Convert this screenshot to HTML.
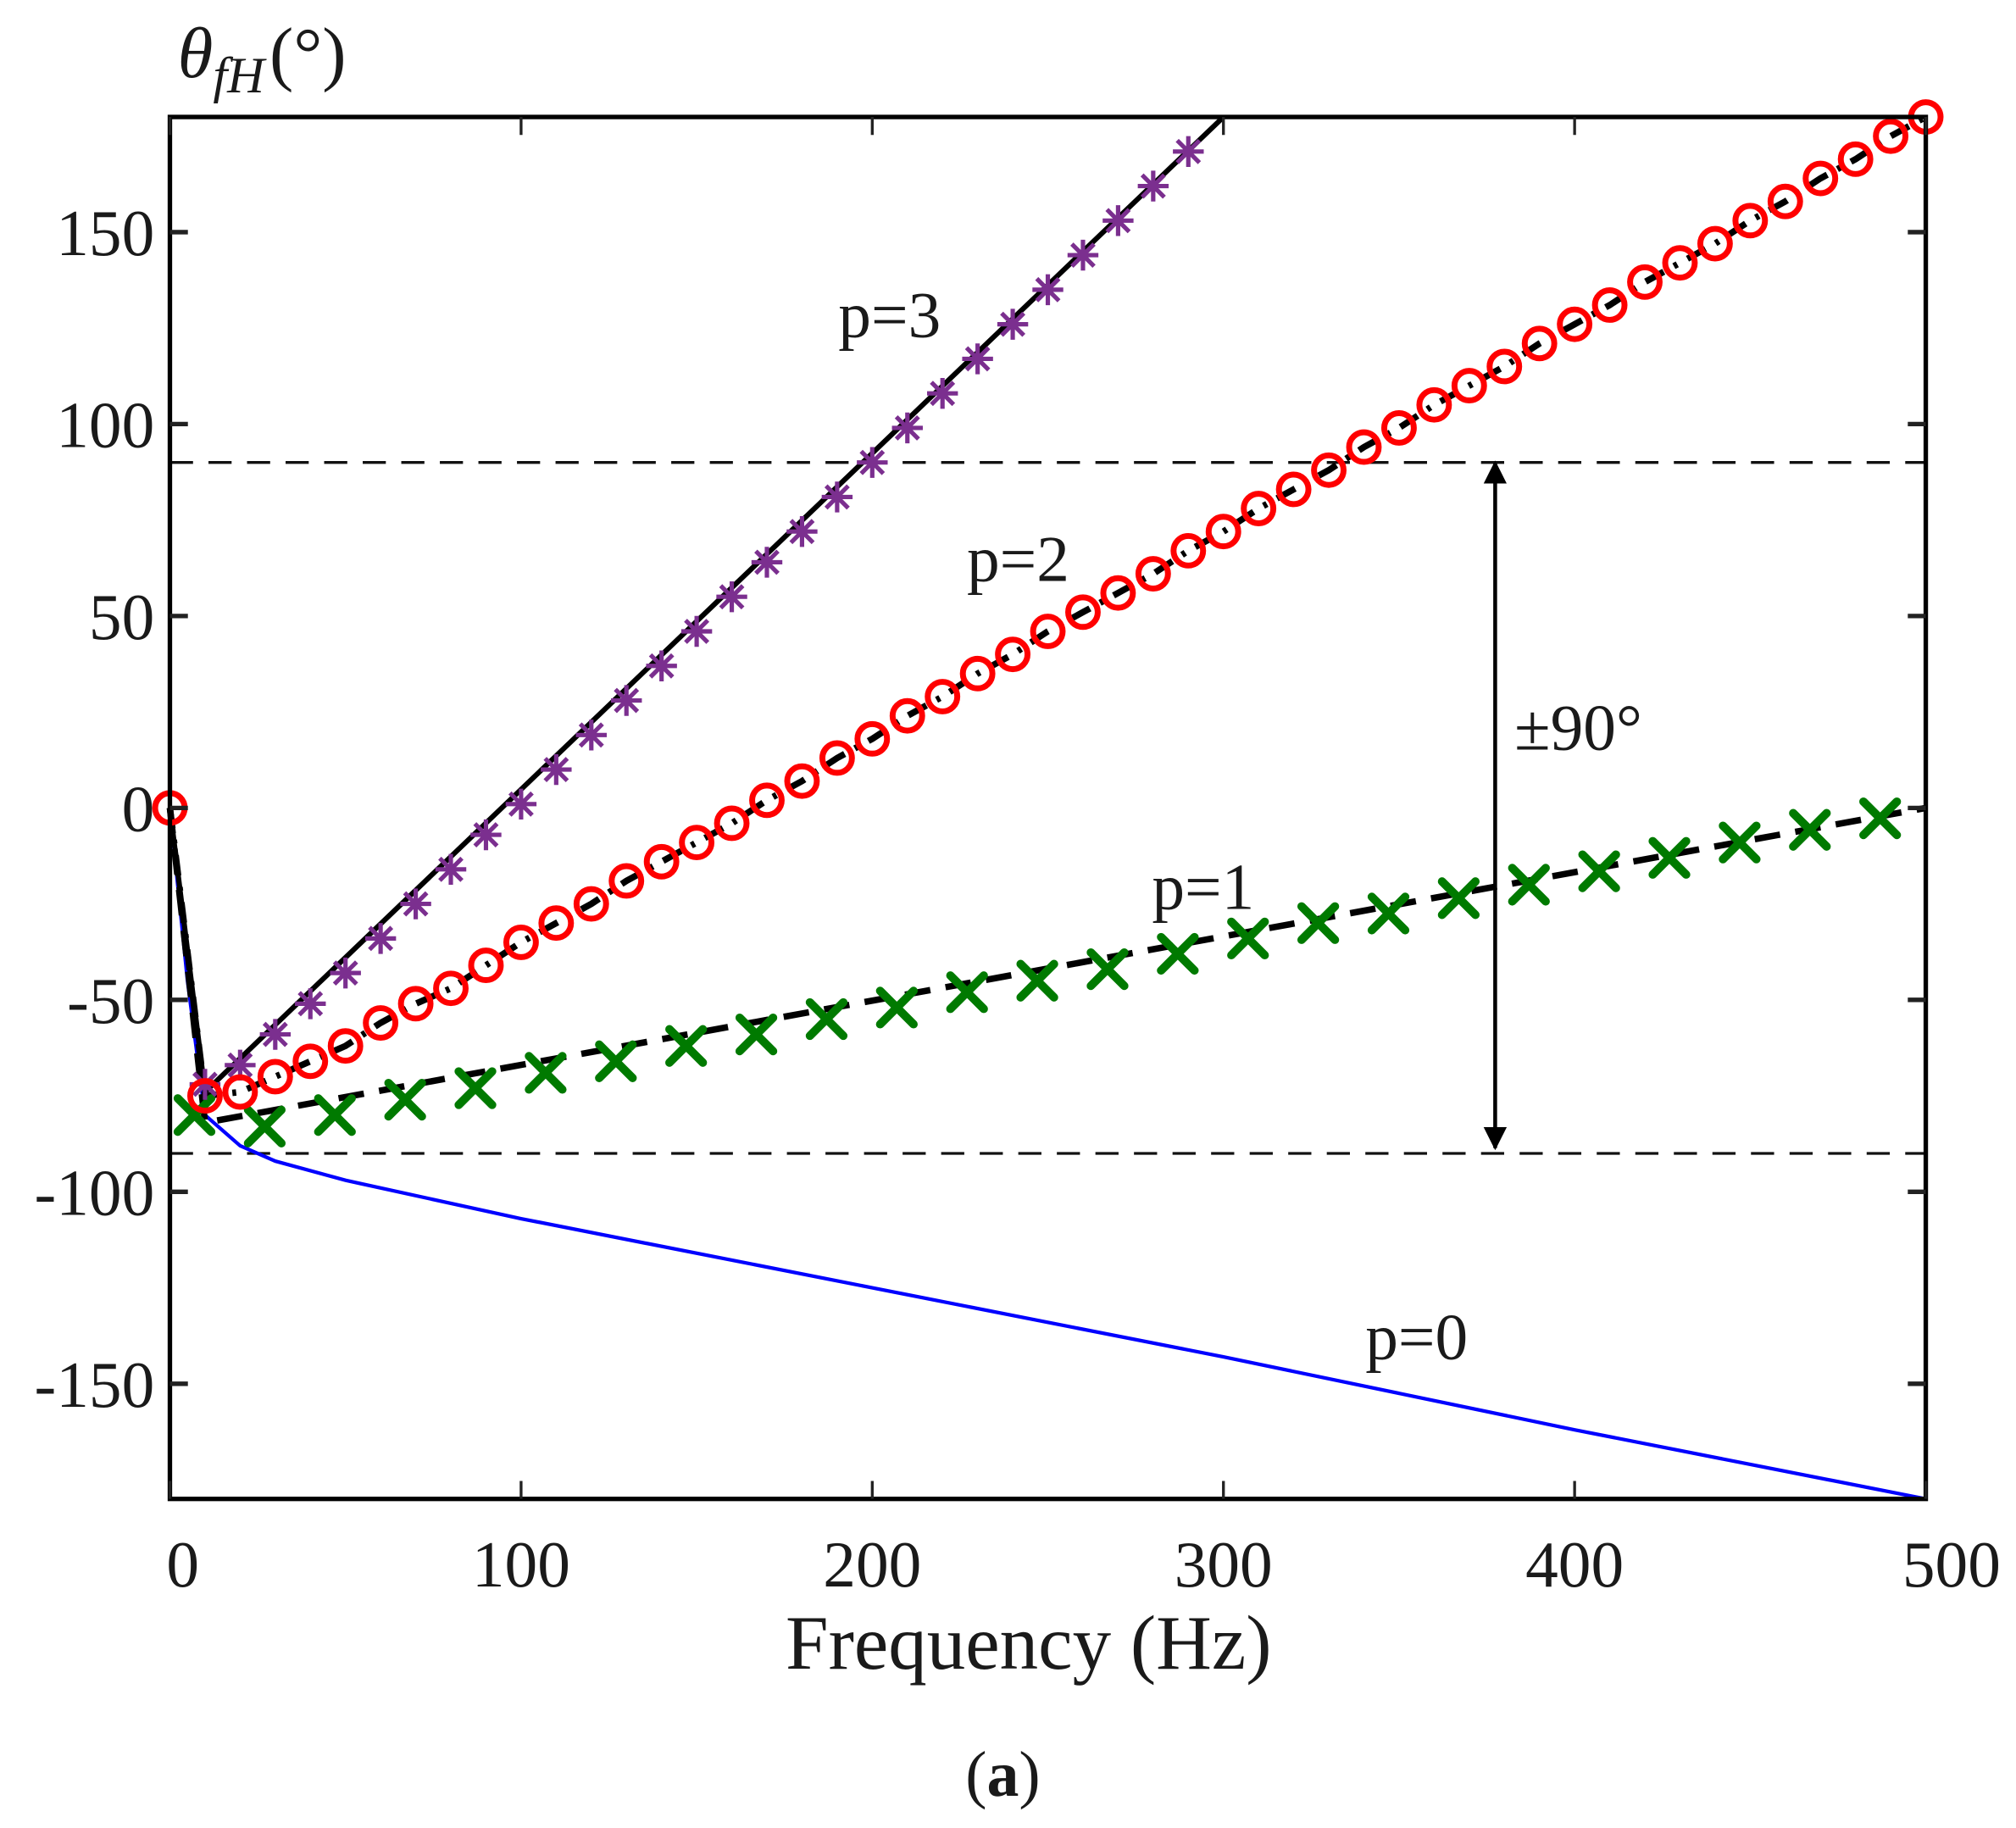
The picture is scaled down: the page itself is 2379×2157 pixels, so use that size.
<!DOCTYPE html>
<html><head><meta charset="utf-8"><style>
html,body{margin:0;padding:0;background:#fff}
svg{display:block}
text{font-family:"Liberation Serif",serif;fill:#1a1a1a}
</style></head><body>
<svg id="chart" width="2379" height="2157" viewBox="0 0 1568 1422" xmlns="http://www.w3.org/2000/svg">
<g id="grid"></g>
</svg>
<script>
const xTicks=[0,100,200,300,400,500];
const yTicks=[150,100,50,0,-50,-100,-150];
const p0F=[0,5,10,20,30,50,100,200,300,400,500];
const p0V=[0,-45,-80,-88,-92,-97,-107,-125,-143,-162,-180];
const p1F=[7,27,47,67,87,107,127,147,167,187,207,227,247,267,287,307,327,347,367,387,407,427,447,467,487];
const p1V=[-80,-83,-80,-76,-73,-69,-66,-62,-59,-55,-52,-48,-45,-42,-38,-34,-30,-27.5,-23.5,-20,-16.5,-13,-9,-5.7,-2.7];
const p1LineF=[0,10,500];
const p1LineV=[0,-82,0];
const p2F=[0,10,20,30,40,50,60,70,80,90,100,110,120,130,140,150,160,170,180,190,200,210,220,230,240,250,260,270,280,290,300,310,320,330,340,350,360,370,380,390,400,410,420,430,440,450,460,470,480,490,500];
const p2V=[0,-75,-74,-70,-66,-62,-56,-51,-47,-41,-35,-30,-25,-19,-14,-9,-4,2,7,13,18,24,29,35,40,46,51,56,61,67,72,78,83,88,94,99,105,110,115,121,126,131,137,142,147,153,158,164,169,175,180];
const p3F=[10,20,30,40,50,60,70,80,90,100,110,120,130,140,150,160,170,180,190,200,210,220,230,240,250,260,270,280,290];
const p3V=[-72,-67,-59,-51,-43,-34,-25,-16,-7,1,10,19,28,37,46,55,64,72,81,90,99,108,117,126,135,144,153,162,171];
const p3LineF=[0,10,300];
const p3LineV=[0,-74,180];

const L=132,R=1498,T=91,B=1166;
const xS=f=>L+(f-0)/500*(R-L);
const yS=v=>T+(180-v)/360*(B-T);
const svg=document.getElementById('chart');
const NS='http://www.w3.org/2000/svg';
function mk(tag,attrs,parent){const e=document.createElementNS(NS,tag);for(const k in attrs)e.setAttribute(k,attrs[k]);(parent||svg).appendChild(e);return e;}
function pts(F,V){return F.map((f,i)=>xS(f)+','+yS(V[i])).join(' ');}

for(const v of [90,-90]){
  const l=mk('line',{x1:L,x2:R,y1:yS(v),y2:yS(v),stroke:'#111','stroke-width':2.2,'stroke-dasharray':'18,12'});
  
  
}
let e=mk('polyline',{points:pts(p0F,p0V),fill:'none',stroke:'#0000ff','stroke-width':2.8});


e=mk('polyline',{points:pts(p1LineF,p1LineV),fill:'none',stroke:'#000','stroke-width':5,'stroke-dasharray':'20,12'});


e=mk('polyline',{points:pts(p2F,p2V),fill:'none',stroke:'#000','stroke-width':5,'stroke-dasharray':'16,9,3,9'});


e=mk('polyline',{points:pts(p3LineF,p3LineV),fill:'none',stroke:'#000','stroke-width':4});


p1F.forEach((f,i)=>{const x=xS(f),y=yS(p1V[i]),s=13;
  const m=mk('path',{d:`M${x-s},${y-s}L${x+s},${y+s}M${x-s},${y+s}L${x+s},${y-s}`,stroke:'#007a00','stroke-width':6.5,'stroke-linecap':'round',fill:'none'});
  
  });
p3F.forEach((f,i)=>{const x=xS(f),y=yS(p3V[i]),s=12,d=s*0.72;
  const m=mk('path',{d:`M${x},${y-s}L${x},${y+s}M${x-s},${y}L${x+s},${y}M${x-d},${y-d}L${x+d},${y+d}M${x-d},${y+d}L${x+d},${y-d}`,stroke:'#7b2f8f','stroke-width':3.4,fill:'none'});
  
  });
p2F.forEach((f,i)=>{
  const m=mk('circle',{cx:xS(f),cy:yS(p2V[i]),r:11.5,fill:'none',stroke:'#ff0000','stroke-width':4.6});
  
  });

e=mk('rect',{x:L,y:T,width:R-L,height:B-T,fill:'none',stroke:'#000','stroke-width':3.5});


xTicks.forEach(t=>{const x=xS(t);
  const a=mk('path',{d:`M${x},${B}V${B-14}M${x},${T}V${T+14}`,stroke:'#222','stroke-width':2.2});
  
  
  const tx=mk('text',{x:x+(t===0?10:(t===500?20:0)),y:1234,'font-size':51,'text-anchor':'middle'});tx.textContent=t;
  
  });
yTicks.forEach(t=>{const y=yS(t);
  const a=mk('path',{d:`M${L},${y}H${L+14}M${R},${y}H${R-14}`,stroke:'#222','stroke-width':3.5});
  
  
  const tx=mk('text',{x:L-12,y:y+18,'font-size':51,'text-anchor':'end'});tx.textContent=t;
  
  });
</script>
<svg style="position:absolute;left:0;top:0" width="2379" height="2157" viewBox="0 0 1568 1422">
<defs><marker id="ah" viewBox="0 0 10 10" refX="9" refY="5" markerWidth="6" markerHeight="6" orient="auto-start-reverse"><path d="M0,0L10,5L0,10z" fill="#000"/></marker></defs>
<line x1="1163" y1="360" x2="1163" y2="893" stroke="#000" stroke-width="3" marker-start="url(#ah)" marker-end="url(#ah)"/>
<text x="1178" y="583" font-size="51" style="font-family:'Liberation Serif',serif">±90°</text>
<text x="652" y="262" font-size="51" style="font-family:'Liberation Serif',serif">p=3</text>
<text x="752" y="452" font-size="51" style="font-family:'Liberation Serif',serif">p=2</text>
<text x="896" y="707" font-size="51" style="font-family:'Liberation Serif',serif">p=1</text>
<text x="1062" y="1057" font-size="51" style="font-family:'Liberation Serif',serif">p=0</text>
<text x="800" y="1298" font-size="60" text-anchor="middle" style="font-family:'Liberation Serif',serif">Frequency (Hz)</text>
<text x="780" y="1397" font-size="50" text-anchor="middle" style="font-family:'Liberation Serif',serif">(<tspan font-weight="bold">a</tspan>)</text>
<text x="138" y="60" font-size="56" style="font-family:'Liberation Serif',serif"><tspan font-style="italic">θ</tspan><tspan font-style="italic" font-size="40" dy="12">fH</tspan><tspan dy="-12" dx="4">(°)</tspan></text>
</svg>
</body></html>
